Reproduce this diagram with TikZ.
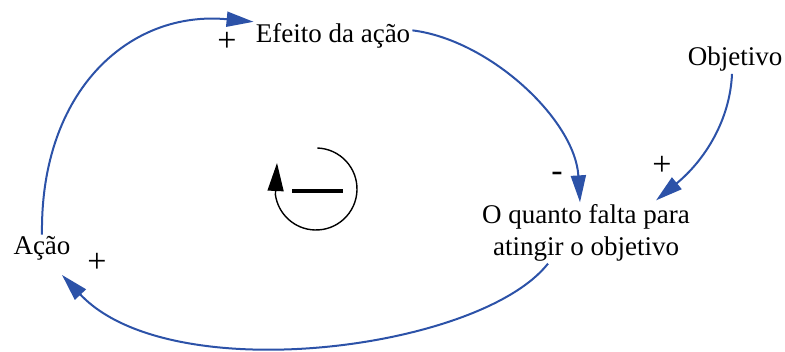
\documentclass[tikz,border=0pt]{standalone}
\usepackage{fontspec}
\setmainfont{Liberation Serif}
\usetikzlibrary{arrows.meta, calc}

\definecolor{linkblue}{RGB}{44,82,168}

\begin{document}
\begin{tikzpicture}[
  x=1pt, y=-1pt,
  font=\fontsize{27}{32}\selectfont,
  var/.style={inner sep=2pt, align=center},
  sign/.style={inner sep=0pt, font=\fontsize{34}{36}\selectfont},
  link/.style={draw=linkblue, line width=2pt, -{Triangle[length=27pt,width=15pt]}},
  loopline/.style={line width=1.4pt, -{Triangle[length=28pt,width=16pt]}}
]
  \useasboundingbox (0,0) rectangle (785,352);

  % variables
  \node[var, anchor=base] (efeito) at (333,43) {Efeito da ação};
  \node[var, anchor=base] (objetivo) at (735,66) {Objetivo};
  \node[var] (falta) at (586,233) {O quanto falta para\\atingir o objetivo};
  \node[var, anchor=base] (acao) at (42,255) {Ação};

  % links
  \draw[link] (acao.north) .. controls (40,90) and (130,10) .. (efeito.north west);
  \draw[link] ($(efeito.east)+(0,-6)$) .. controls (490,40) and (575,120) .. ($(falta.north)+(-6,0)$);
  \draw[link] ($(objetivo.south)+(-3,0)$) .. controls (730,120) and (705,160) .. ($(falta.north east)+(-36,-2)$);
  \draw[link] ($(falta.south)+(-38,0)$) .. controls (480,350) and (170,390) .. ($(acao.south)+(20,12)$);

  % polarities
  \node[sign] (s1) at (227,42) {+};
  \node[sign] (s2) at (557,177) {-};
  \node[sign] (s3) at (662,166) {+};
  \node[sign] (s4) at (97,263) {+};

  % loop symbol
  \coordinate (loop) at (316,189);
  \draw[loopline] (loop) ++(-88:41) arc[start angle=-88, end angle=172, radius=41] -- (277,163);
  \draw[line width=3.5pt] ($(loop)+(-24,2)$) -- ($(loop)+(27,2)$);
\end{tikzpicture}
\end{document}
